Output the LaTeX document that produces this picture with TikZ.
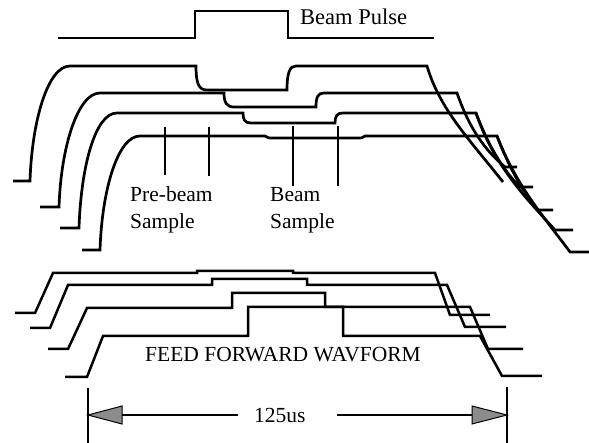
\documentclass[tikz,border=0pt]{standalone}
\usepackage{fontspec}
\setmainfont{Liberation Serif}
\definecolor{headgray}{RGB}{140,140,140}
\tikzset{
  wave/.style={line width=2.7pt, line join=miter},
  ffwave/.style={line width=2.5pt, line join=miter},
  tick/.style={line width=1.8pt},
  dimbar/.style={line width=1.8pt},
  dimline/.style={line width=2pt},
  head/.style={line width=1pt, fill=headgray, draw=black},
  lbl/.style={inner sep=0pt, anchor=base west, font=\fontsize{21.5}{25}\selectfont},
}
\begin{document}
\begin{tikzpicture}[x=1pt,y=-1pt]
\useasboundingbox (0,0) rectangle (589,443);

% Beam pulse
\draw[wave] (58,38) -- (195,38) -- (195,11) -- (288,11) -- (288,38) -- (434,38);
\node[lbl, font=\fontsize{22.5}{25}\selectfont] (bp) at (300,25) {Beam Pulse};

% Upper waveforms
% W1
\draw[wave] (13,181) -- (30,181) .. controls (32,120) and (48,66) .. (70,66) -- (196,66)
  .. controls (196,84) and (199,90) .. (207,90) -- (287,90)
  .. controls (287,72) and (290,66) .. (296,66) -- (427,66)
  .. controls (440,110) and (470,140) .. (503,182);
% W2
\draw[wave] (40,207) -- (59,207) .. controls (61,146) and (78,93) .. (100,93) -- (224,93)
  .. controls (224,103) and (227,107) .. (234,107) -- (316,107)
  .. controls (316,97) and (318,93) .. (324,93) -- (457,93)
  .. controls (470,130) and (485,150) .. (505,167) -- (517,167);
% W3
\draw[wave] (60,228) -- (79,228) .. controls (81,167) and (95,113) .. (117,113) -- (243,113)
  .. controls (243,120) and (245,123) .. (251,123) -- (335,123)
  .. controls (335,116) and (337,113) .. (343,113) -- (476,113)
  .. controls (490,150) and (505,172) .. (520,187) -- (533,187);
% W4
\draw[wave] (82,250) -- (100,250) .. controls (102,189) and (118,136) .. (140,136) -- (265,136)
  .. controls (268,138) .. (273,138) -- (358,138)
  .. controls (362,138) .. (365,136) -- (497,136)
  .. controls (510,170) and (525,195) .. (538,210) -- (553,210);
% extra decay traces
\draw[wave] (476,113) .. controls (495,168) and (528,200) .. (555,230) -- (573,230);
\draw[wave] (497,136) .. controls (517,188) and (548,222) .. (570,252) -- (589,252);

% Sample markers
\draw[tick] (165,127) -- (165,175);
\draw[tick] (209,127) -- (209,176);
\draw[tick] (293,126) -- (293,186);
\draw[tick] (338,126) -- (338,186);
\node[lbl] (pb1) at (130,202) {Pre-beam};
\node[lbl] (pb2) at (130,229) {Sample};
\node[lbl] (bs1) at (270,202) {Beam};
\node[lbl] (bs2) at (270,229) {Sample};

% Feed forward waveforms
\draw[ffwave] (15,313) -- (35,313) -- (53,273) -- (197,273) -- (197,271) -- (293,271) -- (293,273) -- (435,273) -- (450,315) -- (490,315);
\draw[ffwave] (30,328) -- (50,328) -- (68,285) -- (212,285) -- (212,279) -- (307,279) -- (307,285) -- (447,285) -- (465,327) -- (506,327);
\draw[ffwave] (48,349) -- (68,349) -- (87,308) -- (232,308) -- (232,293) -- (325,293) -- (325,307) -- (470,307) -- (488,349) -- (523,349);
\draw[ffwave] (65,377) -- (87,377) -- (103,336) -- (248,336) -- (248,307) -- (343,307) -- (343,336) -- (480,336) -- (502,376) -- (542,376);
\node[lbl] (ff) at (145,362) {FEED FORWARD WAVFORM};

% Dimension
\coordinate (lb1) at (88,388); \coordinate (lb2) at (88,443);
\coordinate (rb1) at (507,387); \coordinate (rb2) at (507,443);
\draw[dimbar] (lb1) -- (lb2);
\draw[dimbar] (rb1) -- (rb2);
\node[lbl] (len) at (254,422) {125us};
\coordinate (ltip) at (88,415);
\coordinate (rtip) at (507,415);
\draw[dimline] (122,415) -- (238,415);
\draw[dimline] (337,415) -- (472,415);
\draw[head] (ltip) -- (122,406) -- (122,424) -- cycle;
\draw[head] (rtip) -- (472,406) -- (472,424) -- cycle;
\end{tikzpicture}
\end{document}
